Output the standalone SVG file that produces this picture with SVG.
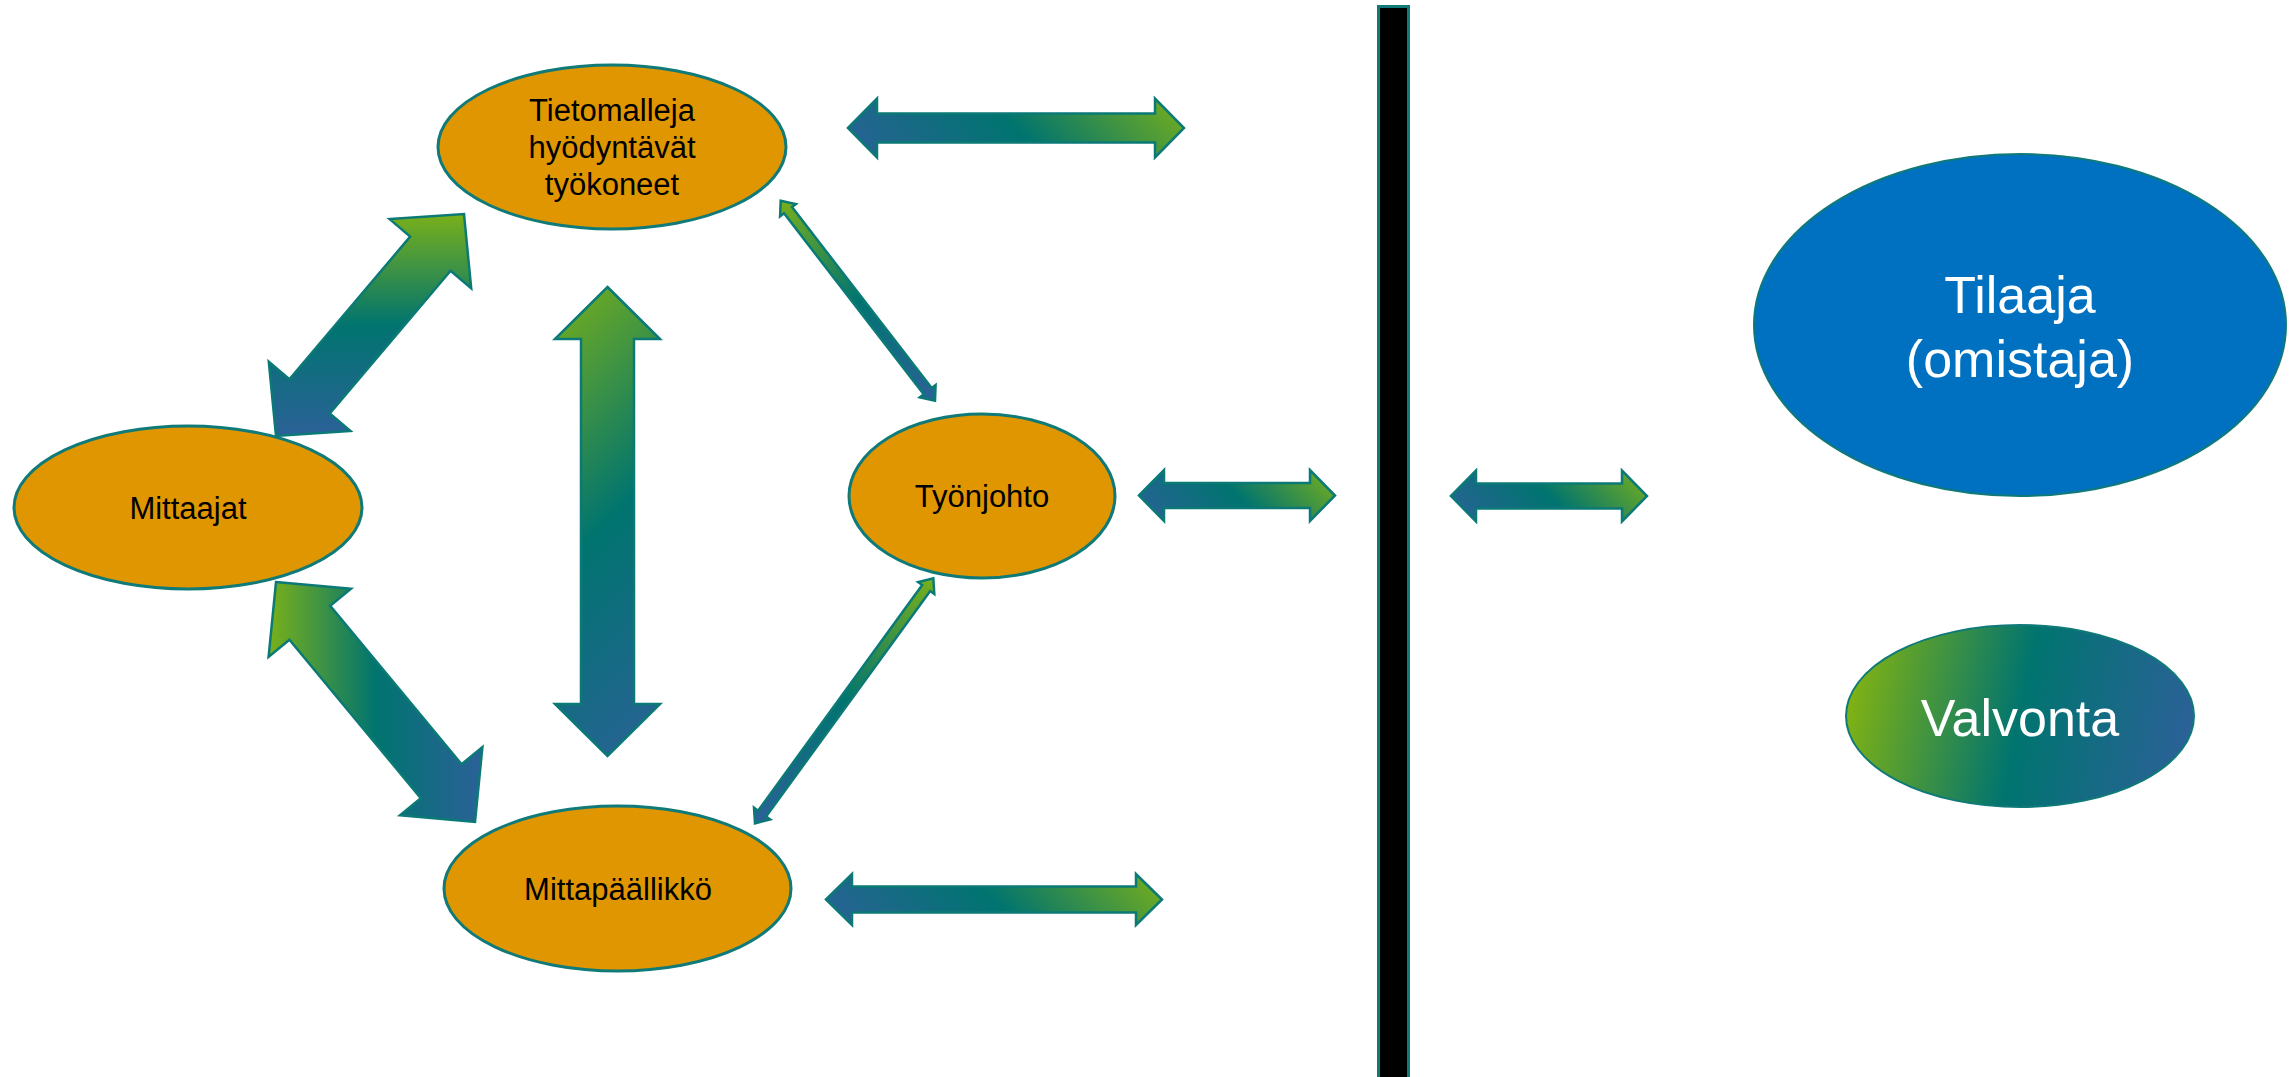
<svg xmlns="http://www.w3.org/2000/svg" width="2295" height="1077" viewBox="0 0 2295 1077">
<style>
.node{fill:#e09600;stroke:#0f7a78;stroke-width:3}
.lbl{font-family:"Liberation Sans",Arial,sans-serif;font-size:31px;fill:#000;text-anchor:middle}
.big{font-family:"Liberation Sans",Arial,sans-serif;font-size:52px;fill:#fff;text-anchor:middle}
.arr{stroke:#0b7a76;stroke-width:2.5;stroke-linejoin:miter}
</style>
<defs>
<linearGradient id="gTop" gradientUnits="userSpaceOnUse" x1="917" y1="227" x2="1115" y2="29"><stop offset="0" stop-color="#2b6198"/><stop offset="0.5" stop-color="#00746f"/><stop offset="1" stop-color="#79b01a"/></linearGradient>
<linearGradient id="gMidL" gradientUnits="userSpaceOnUse" x1="1175" y1="557" x2="1299" y2="434"><stop offset="0" stop-color="#2b6198"/><stop offset="0.5" stop-color="#00746f"/><stop offset="1" stop-color="#79b01a"/></linearGradient>
<linearGradient id="gMidR" gradientUnits="userSpaceOnUse" x1="1487" y1="558" x2="1611" y2="434"><stop offset="0" stop-color="#2b6198"/><stop offset="0.5" stop-color="#00746f"/><stop offset="1" stop-color="#79b01a"/></linearGradient>
<linearGradient id="gBot" gradientUnits="userSpaceOnUse" x1="897" y1="996" x2="1091" y2="803"><stop offset="0" stop-color="#2b6198"/><stop offset="0.5" stop-color="#00746f"/><stop offset="1" stop-color="#79b01a"/></linearGradient>
<linearGradient id="gA1" gradientUnits="userSpaceOnUse" x1="370" y1="214" x2="370" y2="436"><stop offset="0" stop-color="#79b01a"/><stop offset="0.5" stop-color="#00746f"/><stop offset="1" stop-color="#2b6198"/></linearGradient>
<linearGradient id="gA2" gradientUnits="userSpaceOnUse" x1="269" y1="700" x2="483" y2="700"><stop offset="0" stop-color="#79b01a"/><stop offset="0.5" stop-color="#00746f"/><stop offset="1" stop-color="#2b6198"/></linearGradient>
<linearGradient id="gA3" gradientUnits="userSpaceOnUse" x1="464" y1="378" x2="751" y2="665"><stop offset="0" stop-color="#79b01a"/><stop offset="0.5" stop-color="#00746f"/><stop offset="1" stop-color="#2b6198"/></linearGradient>
<linearGradient id="gA4" gradientUnits="userSpaceOnUse" x1="780.7" y1="200.7" x2="935" y2="400.7"><stop offset="0" stop-color="#79b01a"/><stop offset="0.5" stop-color="#00746f"/><stop offset="1" stop-color="#2b6198"/></linearGradient>
<linearGradient id="gA5" gradientUnits="userSpaceOnUse" x1="933.3" y1="578.3" x2="755" y2="823.3"><stop offset="0" stop-color="#79b01a"/><stop offset="0.5" stop-color="#00746f"/><stop offset="1" stop-color="#2b6198"/></linearGradient>
<linearGradient id="gVal" gradientUnits="userSpaceOnUse" x1="1852" y1="682" x2="2188" y2="750"><stop offset="0" stop-color="#80b213"/><stop offset="0.5" stop-color="#00746f"/><stop offset="1" stop-color="#2b6198"/></linearGradient>
</defs>
<rect width="2295" height="1077" fill="#fff"/>

<g id="connectors">
<path class="arr" fill="url(#gTop)" d="M848,128 L877,98.5 L877,113.5 L1155,113.5 L1155,98.5 L1184,128 L1155,157.5 L1155,142.5 L877,142.5 L877,157.5 Z"/>
<path class="arr" fill="url(#gMidL)" d="M1139,495.5 L1164,470 L1164,483 L1310,483 L1310,470 L1335,495.5 L1310,521 L1310,508 L1164,508 L1164,521 Z"/>
<path class="arr" fill="url(#gMidR)" d="M1451,496 L1476,470.5 L1476,483.5 L1622,483.5 L1622,470.5 L1647,496 L1622,521.5 L1622,508.5 L1476,508.5 L1476,521.5 Z"/>
<path class="arr" fill="url(#gBot)" d="M826,899.5 L852,874 L852,886.5 L1136,886.5 L1136,874 L1162,899.5 L1136,925 L1136,912.5 L852,912.5 L852,925 Z"/>
<path class="arr" fill="url(#gA1)" d="M276,436 L268.8,361.7 L289.4,379.2 L410.2,236.6 L389.6,219.1 L464,214 L471.2,288.3 L450.6,270.8 L329.8,413.4 L350.4,430.9 Z"/>
<path class="arr" fill="url(#gA2)" d="M276,582 L351,588.7 L330.2,605.9 L461.6,764.3 L482.4,747.1 L475,822 L400,815.3 L420.8,798.1 L289.4,639.7 L268.6,656.9 Z"/>
<path class="arr" fill="url(#gA3)" d="M607.5,287 L660,339 L634,339 L634,704 L660,704 L607.5,756 L555,704 L581,704 L581,339 L555,339 Z"/>
<path class="arr" fill="url(#gA4)" stroke-width="2" d="M780.7,200.7 L795.9,204.1 L792,207.1 L931.7,388.1 L935.6,385.1 L935,400.7 L919.8,397.3 L923.7,394.3 L784,213.3 L780.1,216.3 Z"/>
<path class="arr" fill="url(#gA5)" stroke-width="2" d="M933.3,578.3 L934.3,593.9 L930.2,590.9 L766.1,816.5 L770.2,819.5 L755,823.3 L754,807.7 L758.1,810.7 L922.2,585.1 L918.1,582.1 Z"/>
</g>

<g id="divider">
<rect x="1378.5" y="6.5" width="30" height="1080" fill="#000" stroke="#0f7a78" stroke-width="3"/>
</g>

<g id="node-tietomalleja">
<ellipse class="node" cx="612" cy="147" rx="174" ry="82"/>
<text class="lbl" x="612" y="120.5">Tietomalleja</text>
<text class="lbl" x="612" y="157.5">hyödyntävät</text>
<text class="lbl" x="612" y="194.5">työkoneet</text>
</g>
<g id="node-mittaajat">
<ellipse class="node" cx="188" cy="507.5" rx="174" ry="81.5"/>
<text class="lbl" x="188" y="519">Mittaajat</text>
</g>
<g id="node-tyonjohto">
<ellipse class="node" cx="982" cy="496" rx="133" ry="82"/>
<text class="lbl" x="982" y="507">Työnjohto</text>
</g>
<g id="node-mittapaallikko">
<ellipse class="node" cx="617.5" cy="888.5" rx="173.5" ry="82.5"/>
<text class="lbl" x="618" y="899.5">Mittapäällikkö</text>
</g>
<g id="node-tilaaja">
<ellipse cx="2020" cy="325" rx="266" ry="171" fill="#0070c0" stroke="#0f7a78" stroke-width="2"/>
<text class="big" x="2020" y="313">Tilaaja</text>
<text class="big" x="2020" y="377">(omistaja)</text>
</g>
<g id="node-valvonta">
<ellipse cx="2020" cy="716" rx="174" ry="91" fill="url(#gVal)" stroke="#0f7a78" stroke-width="2"/>
<text class="big" x="2020" y="736">Valvonta</text>
</g>
</svg>
